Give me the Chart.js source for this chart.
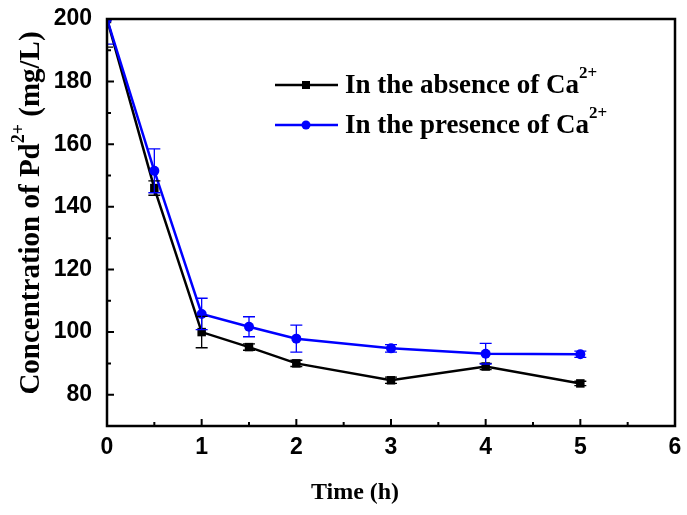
<!DOCTYPE html>
<html>
<head>
<meta charset="utf-8">
<script src="https://cdn.jsdelivr.net/npm/chart.js@4.4.1/dist/chart.umd.min.js"></script>
<style>
  html, body { margin: 0; padding: 0; background: #fff; }
</style>
</head>
<body>
<canvas id="pdChart" width="687" height="515"></canvas>
<script>
/*******************************************************
 * DATA
 *******************************************************/
const times = [0, 0.5, 1, 1.5, 2, 3, 4, 5];

const absenceCa = [200, 146, 100, 95.2, 90, 84.6, 89, 83.6];
const absenceErr = [9, 2.3, 5, 1, 1, 1, 1, 0.7];

const presenceCa = [200, 151.5, 105.8, 101.7, 97.9, 94.8, 93.1, 92.9];
const presenceErr = [8, 7, 5, 3.2, 4.3, 1.2, 3.3, 1];

const xTicks = [0, 1, 2, 3, 4, 5, 6];
const xMinorTicks = [0.5, 1.5, 2.5, 3.5, 4.5, 5.5];
const yTicks = [80, 100, 120, 140, 160, 180, 200];
const yMinorTicks = [90, 110, 130, 150, 170, 190];

const seriesLabels = ["In the absence of Ca", "In the presence of Ca"];
const xTitle = "Time (h)";

const SERIF = "'Liberation Serif', 'Times New Roman', serif";
const SANS = "'Liberation Sans', Arial, sans-serif";

/*******************************************************
 * helper: text with a superscript part
 *******************************************************/
function drawRich(ctx, parts, x, y, align, size) {
  const supSize = Math.round(size * 0.62);
  const lift = Math.round(size * 0.45);
  let total = 0;
  parts.forEach(p => {
    ctx.font = "bold " + (p.sup ? supSize : size) + "px " + SERIF;
    p.w = ctx.measureText(p.t).width;
    total += p.w;
  });
  let cx = align === "center" ? x - total / 2 : x;
  ctx.textAlign = "left";
  ctx.textBaseline = "middle";
  parts.forEach(p => {
    ctx.font = "bold " + (p.sup ? supSize : size) + "px " + SERIF;
    ctx.fillText(p.t, cx, p.sup ? y - lift : y);
    cx += p.w;
  });
}

/*******************************************************
 * plugin: frame, inward ticks, error bars, titles, legend
 *******************************************************/
const decorPlugin = {
  id: "decor",
  afterDatasetsDraw(chart) {
    const ctx = chart.ctx;
    const area = chart.chartArea;
    const xs = chart.scales.x;
    const ys = chart.scales.y;

    // error bars
    const errSets = [
      { vals: absenceCa, err: absenceErr, color: "#000000" },
      { vals: presenceCa, err: presenceErr, color: "#0000ff" }
    ];
    ctx.save();
    ctx.beginPath();
    ctx.rect(area.left, area.top, area.right - area.left, area.bottom - area.top);
    ctx.clip();
    errSets.forEach(s => {
      ctx.strokeStyle = s.color;
      ctx.lineWidth = 1.3;
      times.forEach((t, i) => {
        const px = xs.getPixelForValue(t);
        const top = ys.getPixelForValue(s.vals[i] + s.err[i]);
        const bot = ys.getPixelForValue(s.vals[i] - s.err[i]);
        ctx.beginPath();
        ctx.moveTo(px, top); ctx.lineTo(px, bot);
        ctx.moveTo(px - 6, top); ctx.lineTo(px + 6, top);
        ctx.moveTo(px - 6, bot); ctx.lineTo(px + 6, bot);
        ctx.stroke();
      });
    });
    ctx.restore();

    ctx.save();
    // frame
    ctx.strokeStyle = "#000";
    ctx.lineWidth = 2.5;
    ctx.strokeRect(area.left, area.top, area.right - area.left, area.bottom - area.top);

    // inward ticks
    ctx.lineWidth = 2;
    ctx.beginPath();
    xTicks.forEach(v => {
      const px = xs.getPixelForValue(v);
      ctx.moveTo(px, area.bottom); ctx.lineTo(px, area.bottom - 7);
    });
    xMinorTicks.forEach(v => {
      const px = xs.getPixelForValue(v);
      ctx.moveTo(px, area.bottom); ctx.lineTo(px, area.bottom - 4);
    });
    yTicks.forEach(v => {
      const py = ys.getPixelForValue(v);
      ctx.moveTo(area.left, py); ctx.lineTo(area.left + 7, py);
    });
    yMinorTicks.forEach(v => {
      const py = ys.getPixelForValue(v);
      ctx.moveTo(area.left, py); ctx.lineTo(area.left + 4, py);
    });
    ctx.stroke();

    ctx.fillStyle = "#000";
    // x title
    ctx.font = "bold 24px " + SERIF;
    ctx.textAlign = "center";
    ctx.textBaseline = "middle";
    ctx.fillText(xTitle, 355, 493);

    // y title
    ctx.save();
    ctx.translate(32, 213);
    ctx.rotate(-Math.PI / 2);
    drawRich(ctx, [
      { t: "Concentration of Pd" },
      { t: "2+", sup: true },
      { t: " (mg/L)" }
    ], 0, 0, "center", 29);
    ctx.restore();

    // legend
    const legendRows = [
      { y: 85, color: "#000000", shape: "square" },
      { y: 125, color: "#0000ff", shape: "circle" }
    ];
    legendRows.forEach((r, i) => {
      ctx.strokeStyle = r.color;
      ctx.fillStyle = r.color;
      ctx.lineWidth = 2.5;
      ctx.beginPath();
      ctx.moveTo(275, r.y); ctx.lineTo(338, r.y);
      ctx.stroke();
      if (r.shape === "square") {
        ctx.fillRect(302, r.y - 4, 8, 8);
      } else {
        ctx.beginPath();
        ctx.arc(306, r.y, 4.5, 0, Math.PI * 2);
        ctx.fill();
      }
      ctx.fillStyle = "#000";
      drawRich(ctx, [{ t: seriesLabels[i] }, { t: "2+", sup: true }], 345, r.y + 1, "left", 27);
    });
    ctx.restore();
  }
};

/*******************************************************
 * CHART
 *******************************************************/
const ctx = document.getElementById("pdChart").getContext("2d");

new Chart(ctx, {
  type: "line",
  data: {
    datasets: [
      {
        label: seriesLabels[0],
        data: times.map((t, i) => ({ x: t, y: absenceCa[i] })),
        borderColor: "#000000",
        backgroundColor: "#000000",
        borderWidth: 2.5,
        pointStyle: "rect",
        pointRadius: 6,
        pointBorderWidth: 0,
        tension: 0,
        order: 2
      },
      {
        label: seriesLabels[1],
        data: times.map((t, i) => ({ x: t, y: presenceCa[i] })),
        borderColor: "#0000ff",
        backgroundColor: "#0000ff",
        borderWidth: 2.5,
        pointStyle: "circle",
        pointRadius: 5,
        pointBorderWidth: 0,
        tension: 0,
        order: 1
      }
    ]
  },
  options: {
    responsive: false,
    animation: false,
    devicePixelRatio: 1,
    layout: { padding: { top: 19, right: 12, left: 0, bottom: 0 } },
    scales: {
      x: {
        type: "linear",
        min: 0,
        max: 6,
        afterBuildTicks: s => { s.ticks = xTicks.map(v => ({ value: v })); },
        afterFit: s => { s.height = 89; s.paddingRight = 0; s.paddingLeft = 0; },
        ticks: {
          color: "#000",
          padding: 8,
          font: { family: SANS, size: 23, weight: "bold" }
        },
        grid: { display: false, drawTicks: false },
        border: { display: false }
      },
      y: {
        min: 70,
        max: 200,
        afterBuildTicks: s => { s.ticks = yTicks.map(v => ({ value: v })); },
        afterFit: s => { s.width = 107; s.paddingTop = 0; s.paddingBottom = 0; },
        ticks: {
          color: "#000",
          padding: 15,
          font: { family: SANS, size: 23, weight: "bold" }
        },
        grid: { display: false, drawTicks: false },
        border: { display: false }
      }
    },
    plugins: {
      legend: { display: false },
      tooltip: { enabled: false }
    }
  },
  plugins: [decorPlugin]
});
</script>
</body>
</html>
